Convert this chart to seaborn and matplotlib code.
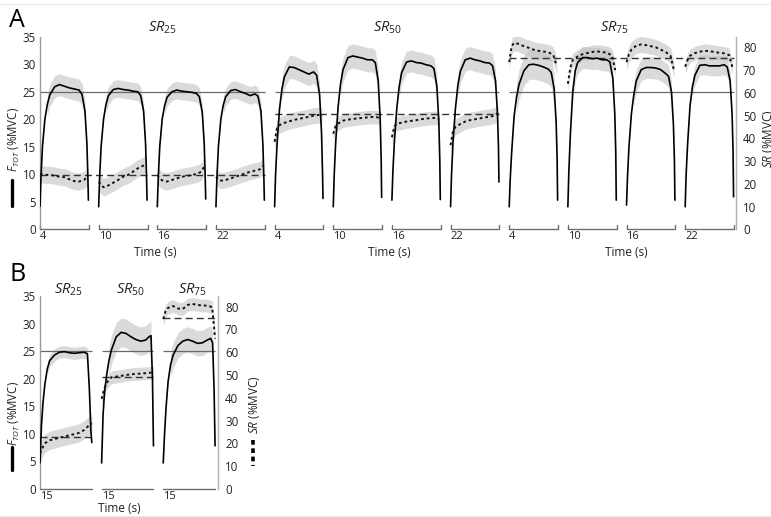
import numpy as np
import pandas as pd
import matplotlib
matplotlib.use("Agg")
import matplotlib.pyplot as plt
from matplotlib.lines import Line2D
import seaborn as sns

# ------------------------------------------------------------------ data
# time grids (s, within one contraction window)
T_FA = [0, 0.1, 0.25, 0.5, 0.75, 1.0, 1.5, 2.0, 2.5, 3.0, 3.5, 4.0, 4.3, 4.6, 4.8, 4.9, 4.95]
T_SA = [0, 0.25, 0.5, 1.0, 1.5, 2.0, 2.5, 3.0, 3.5, 4.0, 4.5, 4.85]
T_FB = [0, 0.15, 0.3, 0.5, 0.75, 1.0, 1.5, 2.0, 2.5, 3.0, 3.5, 4.0, 4.5, 4.85, 5.05, 5.2, 5.3]
T_SB = [0, 0.25, 0.5, 1.0, 1.5, 2.0, 2.5, 3.0, 3.5, 4.0, 4.5, 5.0, 5.3]

GROUPS = ["25", "50", "75"]
A_TICKLABELS = ["4", "10", "16", "22"]
B_TICKLABELS = ["15", "15", "15"]

# Panel A: F_TOT (%MVC), four contractions per SR condition
F_A_SR25 = [
    [4.2, 9.4, 15.0, 20.0, 22.7, 24.4, 25.9, 26.3, 26.0, 25.7, 25.5, 25.3, 24.5, 21.5, 15.5, 9.4, 5.3],
    [4.1, 9.4, 15.0, 20.0, 22.7, 24.3, 25.4, 25.6, 25.4, 25.3, 25.1, 25.0, 24.3, 21.5, 15.5, 9.4, 5.3],
    [4.1, 9.4, 15.0, 20.0, 22.5, 24.0, 25.0, 25.3, 25.1, 25.0, 24.9, 24.7, 24.1, 21.3, 15.5, 9.5, 5.5],
    [4.1, 9.4, 15.0, 20.0, 22.6, 24.1, 25.2, 25.4, 25.0, 24.7, 24.3, 24.6, 24.2, 21.5, 15.5, 9.4, 5.3],
]
F_A_SR50 = [
    [4.1, 10.0, 15.5, 21.8, 25.5, 27.7, 29.5, 29.4, 29.0, 28.6, 28.2, 28.6, 28.0, 24.5, 17.5, 10.5, 5.6],
    [4.1, 10.0, 15.8, 22.3, 26.5, 29.0, 31.2, 31.5, 31.3, 31.1, 30.8, 30.8, 30.3, 27.0, 20.0, 13.0, 5.8],
    [5.3, 10.5, 15.8, 22.0, 26.0, 28.5, 30.4, 30.6, 30.3, 30.2, 29.9, 29.7, 29.2, 26.0, 19.5, 12.5, 5.4],
    [4.1, 10.0, 15.8, 22.0, 26.2, 28.7, 30.8, 31.1, 30.8, 30.6, 30.3, 30.2, 29.7, 27.0, 21.0, 15.0, 8.6],
]
F_A_SR75 = [
    [4.1, 9.0, 14.0, 20.5, 24.0, 26.3, 28.8, 29.9, 30.0, 29.8, 29.5, 29.1, 28.5, 25.5, 19.5, 13.0, 5.3],
    [4.1, 10.5, 17.0, 25.0, 28.8, 30.3, 31.2, 31.2, 31.0, 31.1, 30.8, 30.8, 30.4, 27.5, 21.0, 14.0, 5.3],
    [4.4, 9.5, 15.0, 21.0, 24.5, 27.0, 29.0, 29.4, 29.4, 29.3, 29.0, 28.3, 27.8, 25.0, 19.0, 12.5, 5.3],
    [4.1, 10.0, 15.5, 22.5, 26.0, 28.0, 29.8, 29.9, 29.7, 29.7, 29.7, 29.9, 29.5, 27.0, 21.0, 14.0, 5.9],
]
# Panel A: SR (%MVC)
SR_A_SR25 = [
    [24.3, 24.1, 24.0, 23.9, 23.6, 23.1, 22.9, 22.0, 21.2, 21.0, 21.7, 23.1],
    [20.9, 19.5, 18.5, 19.3, 20.5, 21.7, 23.1, 23.9, 25.3, 26.8, 27.8, 29.0],
    [23.9, 22.5, 21.5, 21.0, 21.7, 22.4, 23.1, 23.4, 23.9, 24.3, 25.3, 28.0],
    [23.1, 22.0, 21.4, 21.7, 22.4, 23.1, 23.9, 24.6, 25.3, 25.8, 26.4, 28.0],
]
SR_A_SR50 = [
    [38.5, 44.5, 45.8, 46.8, 47.5, 48.1, 48.6, 49.0, 49.5, 50.0, 50.3, 49.5],
    [42.0, 45.5, 46.5, 47.8, 48.2, 48.5, 48.8, 49.0, 49.2, 49.4, 49.3, 48.5],
    [40.5, 45.3, 46.4, 46.9, 47.4, 47.7, 48.0, 48.4, 48.7, 48.9, 49.0, 48.3],
    [37.0, 43.2, 45.0, 46.3, 47.4, 48.0, 48.4, 48.8, 49.2, 49.5, 50.0, 51.3],
]
SR_A_SR75 = [
    [73.5, 80.5, 82.0, 81.5, 80.5, 79.8, 79.0, 78.5, 78.2, 77.8, 76.8, 72.0],
    [64.0, 71.0, 74.5, 76.0, 77.0, 77.5, 78.0, 78.2, 78.0, 77.6, 76.5, 70.0],
    [73.5, 77.0, 79.0, 80.8, 81.3, 81.0, 80.5, 80.0, 79.0, 78.0, 76.3, 70.0],
    [71.5, 74.5, 76.3, 77.5, 78.1, 78.5, 78.3, 78.0, 77.6, 77.4, 76.6, 71.0],
]
F_A_SD = [2.0, 1.6, 1.6, 1.6, 2.1, 2.2, 2.0, 2.1, 2.7, 2.0, 2.0, 1.8]
SR_A_SD = [3.8, 3.8, 3.8, 3.5, 3.5, 3.0, 3.0, 3.5, 3.5, 3.0, 3.5, 3.0]
SR_A_TARGET = [24.0, 50.5, 75.5]

# Panel B: one contraction per SR condition
F_B = [
    [4.7, 11.5, 15.5, 19.0, 21.8, 23.3, 24.3, 24.8, 24.9, 24.7, 24.6, 24.7, 24.8, 24.5, 18.0, 10.5, 8.4],
    [4.7, 13.5, 17.5, 20.5, 23.3, 25.2, 27.6, 28.4, 28.2, 27.6, 27.1, 26.8, 27.0, 27.6, 27.8, 20.0, 7.8],
    [4.7, 10.5, 15.0, 19.5, 22.5, 24.2, 26.0, 26.8, 27.1, 26.8, 26.4, 26.5, 27.0, 27.3, 26.5, 18.0, 7.8],
]
SR_B = [
    [15.5, 18.0, 20.0, 21.3, 21.9, 22.4, 23.0, 23.5, 24.0, 24.6, 25.8, 27.8, 28.8],
    [39.5, 43.5, 46.5, 49.0, 49.3, 49.6, 50.0, 50.3, 50.5, 50.6, 50.8, 51.0, 51.0],
    [74.6, 78.3, 79.5, 80.3, 79.2, 79.0, 80.8, 81.2, 80.8, 80.5, 80.5, 79.8, 66.0],
]
F_B_SD = [1.1, 2.6, 2.3]
SR_B_SD = [4.0, 2.8, 2.8]
SR_B_TARGET = [22.8, 49.2, 75.0]
F_TARGET = 25

# ------------------------------------------------------------------ style
W_PX, H_PX = 771, 517
F_MAX, SR_MAX = 35, 84.7
RATIO = SR_MAX / F_MAX
A_STEP, A_W, A_XMAX = 6.0, 5.0, 71.2
B_STEP, B_W, B_XMAX = 6.3, 5.3, 18.2

sns.set_theme(style="white")
plt.rcParams["font.family"] = ["Open Sans", "DejaVu Sans"]
plt.rcParams["mathtext.fontset"] = "custom"
plt.rcParams["mathtext.it"] = "Open Sans:italic"
plt.rcParams["mathtext.rm"] = "Open Sans"

TXT = "#222222"
SPINE = "#9a9a9a"
AXLINE = "#6e6e6e"
BAND = "#bdbdbd"

fig = plt.figure(figsize=(W_PX / 100, H_PX / 100), dpi=100)


def fx(px):
    return px / W_PX


def fy(py):
    return 1 - py / H_PX


def long_df(t, curves, starts, scale=1.0):
    rows = []
    for k, (vals, s) in enumerate(zip(curves, starts)):
        for tt, v in zip(t, vals):
            rows.append({"x": s + tt, "y": v / scale, "seg": k})
    return pd.DataFrame(rows)


def draw_panel(ax, starts, width, xmax, t_f, F, t_s, S, f_sd, s_sd,
               targets, group_size, ticklabels, seg_ticks):
    ax.set_xlim(0, xmax)
    ax.set_ylim(0, F_MAX)
    # bands
    for k, s in enumerate(starts):
        tf = np.array(t_f) + s
        fv = np.array(F[k])
        mask = fv >= 0.8 * fv.max()
        ax.fill_between(tf, fv - f_sd[k], fv + f_sd[k], where=mask,
                        color=BAND, alpha=0.55, lw=0, zorder=1)
        ts = np.array(t_s) + s
        sv = np.array(S[k]) / RATIO
        ax.fill_between(ts, sv - s_sd[k] / RATIO, sv + s_sd[k] / RATIO,
                        color=BAND, alpha=0.55, lw=0, zorder=1)
    # reference lines per group
    n_groups = len(starts) // group_size
    for g in range(n_groups):
        x0 = starts[g * group_size]
        x1 = starts[g * group_size + group_size - 1] + width
        ax.hlines(F_TARGET, x0, x1, color="#6a6a6a", lw=0.9, zorder=2)
        ax.hlines(targets[g] / RATIO, x0, x1, color="#333333", lw=1.0,
                  linestyles=(0, (5, 3)), zorder=2)
    # curves
    dff = long_df(t_f, F, starts)
    sns.lineplot(data=dff, x="x", y="y", units="seg", estimator=None,
                 color="black", lw=1.2, ax=ax, zorder=4, legend=False)
    dfs = long_df(t_s, S, starts, scale=RATIO)
    sns.lineplot(data=dfs, x="x", y="y", units="seg", estimator=None,
                 color="#111111", lw=1.4, linestyle=(0, (1.4, 1.5)), ax=ax,
                 zorder=4, legend=False)
    # broken time axis
    for s in starts:
        ax.plot([s, s + width], [0, 0], color=AXLINE, lw=1.0, clip_on=False,
                zorder=3)
        if seg_ticks:
            ax.plot([s, s], [0, 0.8], color=AXLINE, lw=1.0, clip_on=False)
            ax.plot([s + width, s + width], [0, 0.8], color=AXLINE, lw=1.0,
                    clip_on=False)
    ax.set_xticks(starts)
    ax.set_xticklabels(ticklabels, ha="left")
    ax.set_yticks(range(0, 36, 5))
    ax.tick_params(axis="both", length=0, labelsize=8.3, colors=TXT, pad=3)
    ax.tick_params(axis="x", pad=1.5, labelsize=8)
    ax.set_xlabel("")
    ax.set_ylabel("")
    for side in ["top", "bottom", "right"]:
        ax.spines[side].set_visible(False)
    ax.spines["left"].set_color(SPINE)
    ax.spines["left"].set_linewidth(1.0)
    ax2 = ax.twinx()
    ax2.set_ylim(0, SR_MAX)
    ax2.set_yticks(range(0, 81, 10))
    ax2.tick_params(axis="y", length=0, labelsize=8.3, colors=TXT, pad=5)
    for side in ["top", "bottom", "left"]:
        ax2.spines[side].set_visible(False)
    ax2.spines["right"].set_color("#b0b0b0")
    ax2.spines["right"].set_linewidth(1.0)
    ax2.grid(False)
    return ax2


# ---------------- panel A
axA = fig.add_axes([fx(40), fy(229.3), fx(736) - fx(40), fy(36.7) - fy(229.3)])
startsA = [A_STEP * i for i in range(12)]
draw_panel(axA, startsA, A_W, A_XMAX, T_FA, F_A_SR25 + F_A_SR50 + F_A_SR75,
           T_SA, SR_A_SR25 + SR_A_SR50 + SR_A_SR75, F_A_SD, SR_A_SD,
           SR_A_TARGET, 4, A_TICKLABELS * 3, True)

# ---------------- panel B
axB = fig.add_axes([fx(40), fy(488.8), fx(218) - fx(40), fy(296) - fy(488.8)])
startsB = [B_STEP * i for i in range(3)]
draw_panel(axB, startsB, B_W, B_XMAX, T_FB, F_B, T_SB, SR_B, F_B_SD, SR_B_SD,
           SR_B_TARGET, 1, B_TICKLABELS, False)

# ---------------- texts
def sr_title(g):
    return r"$\mathit{SR}_{\mathit{" + g + "}}$"

for g, px in zip(GROUPS, [162, 387, 614]):
    fig.text(fx(px), fy(28), sr_title(g), ha="center", va="center",
             fontsize=10.5, color=TXT)
for g, px in zip(GROUPS, [68, 130, 192]):
    fig.text(fx(px), fy(290), sr_title(g), ha="center", va="center",
             fontsize=10.5, color=TXT)

for px in [155, 389, 626]:
    fig.text(fx(px), fy(252), "Time (s)", ha="center", va="center",
             fontsize=8.5, color=TXT)
fig.text(fx(119), fy(509), "Time (s)", ha="center", va="center",
         fontsize=8.5, color=TXT)

fig.text(fx(9), fy(27), "A", fontsize=18, color="black", ha="left",
         va="baseline")
fig.text(fx(10), fy(281), "B", fontsize=18, color="black", ha="left",
         va="baseline")

flabel = r"$\mathit{F}_{\mathit{TOT}}$ (%MVC)"
srlabel = r"$\mathit{SR}$ (%MVC)"
fig.text(fx(14), fy(140), flabel, rotation=90, ha="center", va="center",
         fontsize=8.3, color=TXT)
fig.text(fx(14), fy(414), flabel, rotation=90, ha="center", va="center",
         fontsize=8.3, color=TXT)
fig.text(fx(769), fy(139), srlabel, rotation=90, ha="center", va="center",
         fontsize=8.5, color=TXT)
fig.text(fx(254), fy(405), srlabel, rotation=90, ha="center", va="center",
         fontsize=8.5, color=TXT)

# legend bars
fig.add_artist(Line2D([fx(12), fx(12)], [fy(180), fy(206)], color="black",
                      lw=2.4))
fig.add_artist(Line2D([fx(12), fx(12)], [fy(447), fy(470)], color="black",
                      lw=2.4))
fig.add_artist(Line2D([fx(253), fx(253)], [fy(440), fy(466)], color="black",
                      lw=2.6, linestyle=(0, (1.3, 1.0))))

# faint frame lines
fig.add_artist(Line2D([0, 1], [fy(4), fy(4)], color="#e8e8e8", lw=0.8))
fig.add_artist(Line2D([0, 1], [fy(515.5), fy(515.5)], color="#e8e8e8", lw=0.8))

fig.savefig("out.png", dpi=100)
